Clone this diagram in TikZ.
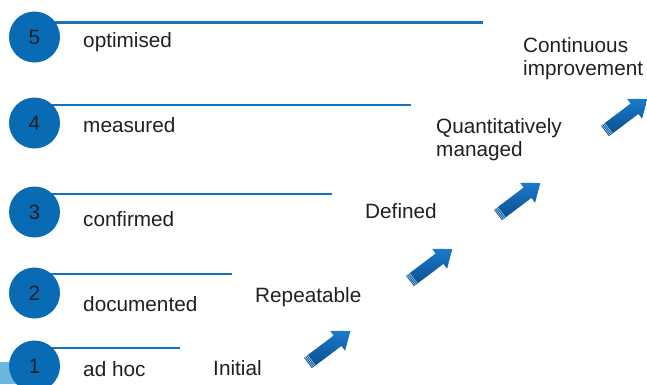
\documentclass[tikz,border=0pt]{standalone}
\usepackage{fontspec}
\setmainfont{Liberation Sans}
\usetikzlibrary{backgrounds}

\definecolor{levelblue}{HTML}{0A6BB5}
\definecolor{rungblue}{HTML}{1573BE}
\definecolor{arrowdark}{HTML}{0B4C8A}
\definecolor{arrowlight}{HTML}{1A7BCB}
\definecolor{tailblue}{HTML}{9CCBEE}
\definecolor{edgeblue}{HTML}{6DB6DD}
\definecolor{textgrey}{HTML}{231F20}

\newcommand{\diagfont}{\fontsize{17.7}{19.6}\selectfont}

\tikzset{
    stagearrow/.pic={
        \shade[top color=arrowlight, bottom color=arrowdark]
            (0,-6.5) -- (37,-6.5) -- (37,-12.5) -- (53,0) -- (37,12.5) -- (37,6.5) -- (0,6.5) -- cycle;
        \foreach \s in {1.2,2.8,4.4}
            \draw[tailblue, line width=0.5pt] (\s,-6.5) -- (\s,6.5);
    }
}

\begin{document}
\begin{tikzpicture}[x=0.03cm, y=-0.03cm,
    level/.style={circle, fill=levelblue, text=textgrey, minimum size=1.53cm, inner sep=0pt, font=\diagfont},
    levelname/.style={anchor=base west, inner sep=0pt, text=textgrey, font=\diagfont},
    stagename/.style={levelname, align=left},
    rung/.style={rungblue, line width=1.9pt}]
    \useasboundingbox (0,0) rectangle (647,384);

    % Levels
    \node[level] (c5) at (34.5,37) {5};
    \node[level] (c4) at (34.5,123) {4};
    \node[level] (c3) at (34.5,212) {3};
    \node[level] (c2) at (34.5,293) {2};
    \node[level] (c1) at (34.5,366) {1};

    \node[levelname] (l5) at (83,47) {optimised};
    \node[levelname] (l4) at (83,132) {measured};
    \node[levelname] (l3) at (83,226) {confirmed};
    \node[levelname] (l2) at (83,311) {documented};
    \node[levelname] (l1) at (83,376) {ad hoc};

    % Rungs
    \coordinate (e5) at (483,22.5);
    \coordinate (e4) at (411,105);
    \coordinate (e3) at (332,194);
    \coordinate (e2) at (232,274);
    \coordinate (e1) at (180,348);
    \begin{scope}[on background layer]
        \fill[edgeblue] (0,362) rectangle (20,384);
        \foreach \i in {1,...,5}
            \draw[rung] (c\i.center |- e\i) -- (e\i);
    \end{scope}

    % Stages (base = last line)
    \node[stagename] (s1) at (213,375) {Initial};
    \node[stagename] (s2) at (255,302) {Repeatable};
    \node[stagename] (s3) at (365,218) {Defined};
    \node[stagename] (s4) at (436,156) {Quantitatively\\managed};
    \node[stagename] (s5) at (523,75) {Continuous\\improvement};

    \pic[rotate=37] at (308,363) {stagearrow};
    \pic[rotate=37] at (410,281) {stagearrow};
    \pic[rotate=37] at (498,215) {stagearrow};
    \pic[rotate=37] at (605,131) {stagearrow};

\end{tikzpicture}
\end{document}
